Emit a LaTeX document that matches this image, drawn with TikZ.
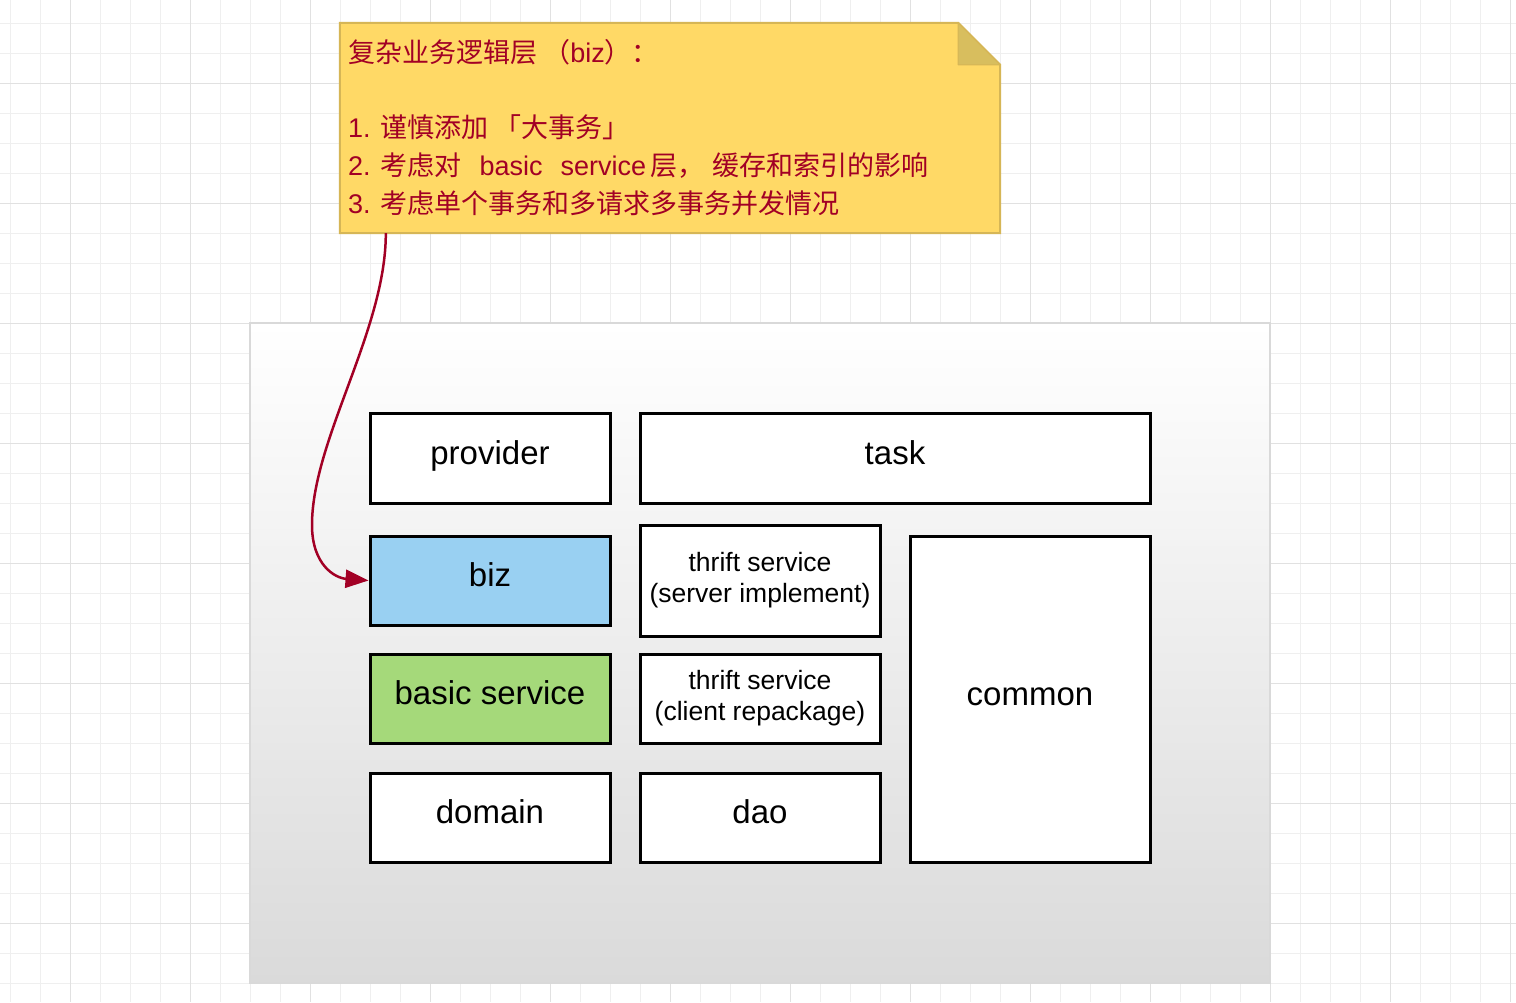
\documentclass[tikz,border=0pt]{standalone}
\usepackage{fontspec}
\setmainfont{Liberation Sans}
\newfontfamily\cjk{Noto Sans CJK SC}
\usetikzlibrary{arrows.meta}
\definecolor{gridminor}{HTML}{EFEFEF}
\definecolor{gridmajor}{HTML}{E1E1E1}
\definecolor{notefill}{HTML}{FFD966}
\definecolor{noteline}{HTML}{D6B656}
\definecolor{notefold}{HTML}{D8BE5E}
\definecolor{notetext}{HTML}{A20025}
\definecolor{bizfill}{HTML}{99D0F2}
\definecolor{basicfill}{HTML}{A5D97A}
\definecolor{contbottom}{HTML}{DADADA}
\definecolor{contline}{HTML}{D9D9D9}
\begin{document}
\begin{tikzpicture}[x=1pt,y=-1pt,
  boxbase/.style={draw=black, line width=3pt, fill=white, inner sep=0pt, align=center},
  box/.style={boxbase, text height=22pt, text depth=10pt,
    font=\fontsize{33}{38}\selectfont},
  smallbox/.style={boxbase, font=\fontsize{26.5}{32}\selectfont},
  notetxt/.style={anchor=base west, inner sep=0pt, text=notetext,
    font=\fontsize{27}{32}\selectfont},
  link/.style={draw=notetext, line width=2.5pt, -{Triangle[length=23pt,width=18pt]}}]
\useasboundingbox (0,0) rectangle (1516,1002);
\fill[white] (0,0) rectangle (1516,1002);
% grid
\foreach \x in {10,40,...,1510} \draw[gridminor, line width=1pt] (\x,0) -- (\x,1002);
\foreach \y in {23,53,...,1000} \draw[gridminor, line width=1pt] (0,\y) -- (1516,\y);
\foreach \x in {70,190,...,1510} \draw[gridmajor, line width=1pt] (\x,0) -- (\x,1002);
\foreach \y in {83,203,...,1000} \draw[gridmajor, line width=1pt] (0,\y) -- (1516,\y);
% container
\shade[top color=white, bottom color=contbottom] (250,323) rectangle (1270,983);
\draw[contline, line width=2pt] (250,323) rectangle (1270,983);
% boxes
\node[box, minimum width=240pt, minimum height=90pt] (provider) at (490,458) {provider};
\node[box, minimum width=510pt, minimum height=90pt] (task) at (895,458) {task};
\node[box, fill=bizfill, minimum width=240pt, minimum height=89pt] (biz) at (490,580.5) {biz};
\node[smallbox, minimum width=240pt, minimum height=111pt] (thriftserver) at (760,580.5) {thrift service\\[-1pt](server implement)};
\node[box, minimum width=240pt, minimum height=326pt] (common) at (1030,699) {common};
\node[box, fill=basicfill, minimum width=240pt, minimum height=89pt] (basic) at (490,698.5) {basic service};
\node[smallbox, minimum width=240pt, minimum height=89pt] (thriftclient) at (760,698.5) {thrift service\\[-1pt](client repackage)};
\node[box, minimum width=240pt, minimum height=89pt] (domain) at (490,817.5) {domain};
\node[box, minimum width=240pt, minimum height=89pt] (dao) at (760,817.5) {dao};
% note
\node[minimum width=660pt, minimum height=210pt, inner sep=0pt] (note) at (670,128) {};
\filldraw[fill=notefill, draw=noteline, line width=2pt]
  (note.north west) -- ([xshift=-42pt]note.north east) -- ([yshift=-42pt]note.north east)
  -- (note.south east) -- (note.south west) -- cycle;
\filldraw[fill=notefold, draw=noteline, line width=1pt, line join=round]
  ([xshift=-42pt]note.north east) -- ([xshift=-42pt,yshift=-42pt]note.north east)
  -- ([yshift=-42pt]note.north east) -- cycle;
\node[notetxt] (l1) at (348,62) {{\cjk 复杂业务逻辑层 （}biz{\cjk ）：}};
\node[notetxt] (l3) at (348,137) {1. {\cjk 谨慎添加 「大事务」}};
\node[notetxt] (l4) at (348,175) {2. {\cjk 考虑对}\hspace{18pt}basic\hspace{18pt}service\hspace{4pt}{\cjk 层，}\hspace{8pt}{\cjk 缓存和索引的影响}};
\node[notetxt] (l5) at (348,213) {3. {\cjk 考虑单个事务和多请求多事务并发情况}};
% connector
\coordinate (nstart) at ([xshift=46pt]note.south west);
\draw[link] (nstart) .. controls (386,330) and (312,440) .. (312,525)
  .. controls (312,565) and (335,578) .. (biz.west);
\end{tikzpicture}
\end{document}
